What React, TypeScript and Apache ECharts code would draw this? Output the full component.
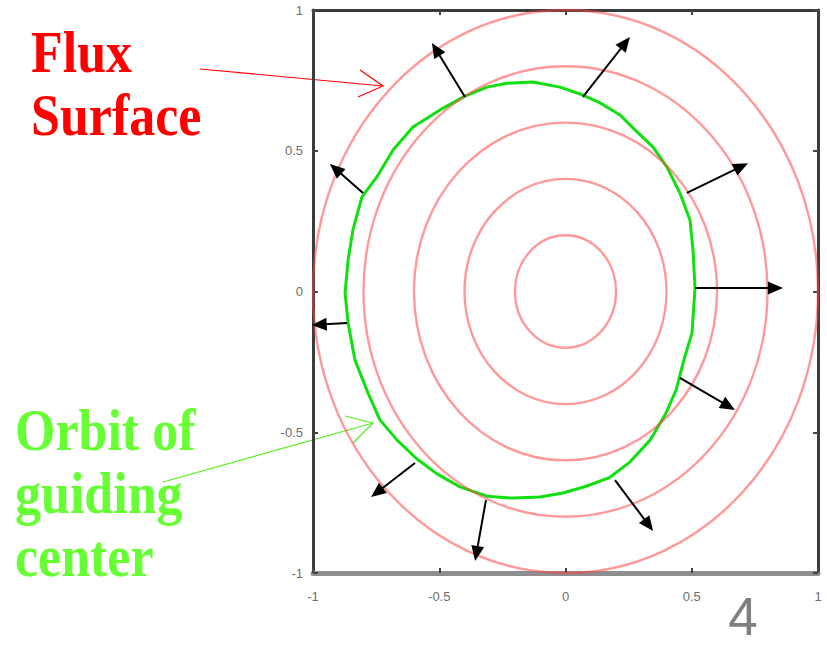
import React, { useEffect, useRef } from "react";
import * as echarts from "echarts";

// ---- data ----
const xTicks = [-1, -0.5, 0, 0.5, 1];
const yTicks = [-1, -0.5, 0, 0.5, 1];

// flux surfaces: concentric circles around the axis centre
const ringCenterX = 0;
const ringCenterY = 0;
const ringRadii = [0.2, 0.4, 0.6, 0.8, 1.0];

// orbit of the guiding centre (traced points, clockwise from the right)
const orbitX = [
  0.513, 0.501, 0.469, 0.438, 0.394, 0.335, 0.255, 0.176, 0.085, -0.01, -0.101,
  -0.208, -0.311, -0.418, -0.509, -0.588, -0.667, -0.735, -0.782, -0.834, -0.861,
  -0.873, -0.861, -0.842, -0.806, -0.747, -0.683, -0.604, -0.497, -0.398, -0.311,
  -0.232, -0.129, -0.022, 0.069, 0.137, 0.216, 0.275, 0.347, 0.402, 0.453, 0.493,
  0.505, 0.513,
];
const orbitY = [
  0.012, -0.147, -0.243, -0.35, -0.439, -0.528, -0.606, -0.66, -0.691, -0.716,
  -0.73, -0.734, -0.727, -0.694, -0.648, -0.595, -0.528, -0.456, -0.361, -0.243,
  -0.112, -0.005, 0.112, 0.218, 0.336, 0.407, 0.503, 0.584, 0.645, 0.694, 0.726,
  0.74, 0.744, 0.726, 0.698, 0.67, 0.627, 0.574, 0.513, 0.442, 0.35, 0.254, 0.147,
  0.012,
];

// drift arrows (start on the orbit -> tip)
const arrowX1 = [-0.398, 0.069, -0.802, 0.481, 0.513, -0.865, 0.453, -0.596, -0.315, 0.196];
const arrowY1 = [0.691, 0.691, 0.35, 0.35, 0.012, -0.112, -0.307, -0.609, -0.741, -0.67];
const arrowX2 = [-0.529, 0.255, -0.933, 0.723, 0.861, -1.005, 0.671, -0.77, -0.358, 0.347];
const arrowY2 = [0.883, 0.904, 0.453, 0.456, 0.012, -0.119, -0.421, -0.73, -0.957, -0.851];

const labelFlux = ["Flux", "Surface"];
const labelOrbit = ["Orbit of", "guiding", "center"];
const pageNumber = "4";

export default function App() {
  const ref = useRef<HTMLDivElement>(null);

  useEffect(() => {
    document.body.style.margin = "0";
    const chart = echarts.init(ref.current!, null, { renderer: "svg" });

    const ringData = ringRadii.map((r) => [ringCenterX, ringCenterY, r]);
    const orbitData = orbitX.map((x, i) => [x, orbitY[i]]);
    const arrowData = arrowX1.map((x, i) => [x, arrowY1[i], arrowX2[i], arrowY2[i]]);

    const axisCommon = {
      type: "value" as const,
      min: xTicks[0],
      max: xTicks[xTicks.length - 1],
      interval: 0.5,
      splitLine: { show: false },
      axisTick: { show: true, inside: true, length: 5, lineStyle: { color: "#444", width: 2 } },
    };
    const labelStyle = {
      show: true,
      color: "#6e6e6e",
      fontSize: 13,
      fontFamily: "Liberation Sans, Arial, sans-serif",
      formatter: (v: number) => String(v),
    };

    const serifBold = 'bold 52px "Liberation Serif", "Times New Roman", serif';
    const sy = 1.12;

    chart.setOption({
      animation: false,
      backgroundColor: "#ffffff",
      grid: { left: 313, right: 9, top: 10, bottom: 73, outerBoundsMode: "none" },
      xAxis: [
        {
          ...axisCommon,
          position: "bottom",
          axisLine: { show: true, onZero: false, lineStyle: { color: "#8e8e8e", width: 5 } },
          axisLabel: { ...labelStyle, margin: 17 },
        },
        {
          ...axisCommon,
          position: "top",
          axisLine: { show: true, onZero: false, lineStyle: { color: "#3c3c3c", width: 3 } },
          axisLabel: { show: false },
        },
      ],
      yAxis: [
        {
          ...axisCommon,
          min: yTicks[0],
          max: yTicks[yTicks.length - 1],
          position: "left",
          axisLine: { show: true, onZero: false, lineStyle: { color: "#3c3c3c", width: 3 } },
          axisLabel: { ...labelStyle, margin: 10 },
        },
        {
          ...axisCommon,
          min: yTicks[0],
          max: yTicks[yTicks.length - 1],
          position: "right",
          axisLine: { show: true, onZero: false, lineStyle: { color: "#3c3c3c", width: 3 } },
          axisLabel: { show: false },
        },
      ],
      series: [
        {
          type: "line",
          name: "orbit",
          data: orbitData,
          showSymbol: false,
          symbol: "none",
          lineStyle: { color: "#10e010", width: 3 },
          z: 2,
        },
        {
          type: "custom",
          name: "flux surfaces",
          clip: false,
          data: ringData,
          encode: { x: 0, y: 1 },
          z: 3,
          renderItem: (params: any, api: any) => {
            const c = api.coord([api.value(0), api.value(1)]);
            const s = api.size([api.value(2), api.value(2)]);
            return {
              type: "ellipse",
              shape: { cx: c[0], cy: c[1], rx: s[0], ry: s[1] },
              style: { fill: "none", stroke: "rgba(255,70,70,0.55)", lineWidth: 2.4 },
            };
          },
        },
        {
          type: "custom",
          name: "drift",
          clip: false,
          data: arrowData,
          encode: { x: 0, y: 1 },
          z: 5,
          renderItem: (params: any, api: any) => {
            const p1 = api.coord([api.value(0), api.value(1)]);
            const p2 = api.coord([api.value(2), api.value(3)]);
            const dx = p2[0] - p1[0];
            const dy = p2[1] - p1[1];
            const len = Math.hypot(dx, dy) || 1;
            const ux = dx / len;
            const uy = dy / len;
            const hl = 15;
            const hw = 6.5;
            const bx = p2[0] - ux * hl;
            const by = p2[1] - uy * hl;
            return {
              type: "group",
              children: [
                {
                  type: "line",
                  shape: { x1: p1[0], y1: p1[1], x2: bx + ux * 2, y2: by + uy * 2 },
                  style: { stroke: "#000", lineWidth: 2 },
                },
                {
                  type: "polygon",
                  shape: {
                    points: [
                      [p2[0], p2[1]],
                      [bx - uy * hw, by + ux * hw],
                      [bx + uy * hw, by - ux * hw],
                    ],
                  },
                  style: { fill: "#000" },
                },
              ],
            };
          },
        },
      ],
      graphic: [
        // Flux Surface label
        ...labelFlux.map((t, i) => ({
          type: "text",
          x: 31,
          y: 52 + i * 63,
          scaleY: sy,
          style: { text: t, font: serifBold, fill: "#ff0000", verticalAlign: "middle", align: "left" },
        })),
        {
          type: "polyline",
          shape: { points: [[200, 69], [383, 86]] },
          style: { stroke: "#ff0000", lineWidth: 1.2, fill: "none" },
        },
        {
          type: "polyline",
          shape: { points: [[360, 70], [383, 86], [358, 97]] },
          style: { stroke: "#ff0000", lineWidth: 1.2, fill: "none" },
        },
        // Orbit label
        ...labelOrbit.map((t, i) => ({
          type: "text",
          x: 15,
          y: 430 + i * 63,
          scaleY: sy,
          style: { text: t, font: serifBold, fill: "#66ff33", verticalAlign: "middle", align: "left" },
        })),
        {
          type: "polyline",
          shape: { points: [[163, 482], [373, 423]] },
          style: { stroke: "#55ee22", lineWidth: 1.2, fill: "none" },
        },
        {
          type: "polyline",
          shape: { points: [[345, 416], [373, 423], [353, 443]] },
          style: { stroke: "#55ee22", lineWidth: 1.2, fill: "none" },
        },
        // slide number
        {
          type: "text",
          x: 743,
          y: 616,
          style: {
            text: pageNumber,
            font: '53px "Liberation Sans", Arial, sans-serif',
            lineHeight: 44,
            fill: "#7f7f7f",
            align: "center",
            verticalAlign: "middle",
          },
        },
      ],
    });

    return () => chart.dispose();
  }, []);

  return <div ref={ref} style={{ width: 827, height: 646 }} />;
}
